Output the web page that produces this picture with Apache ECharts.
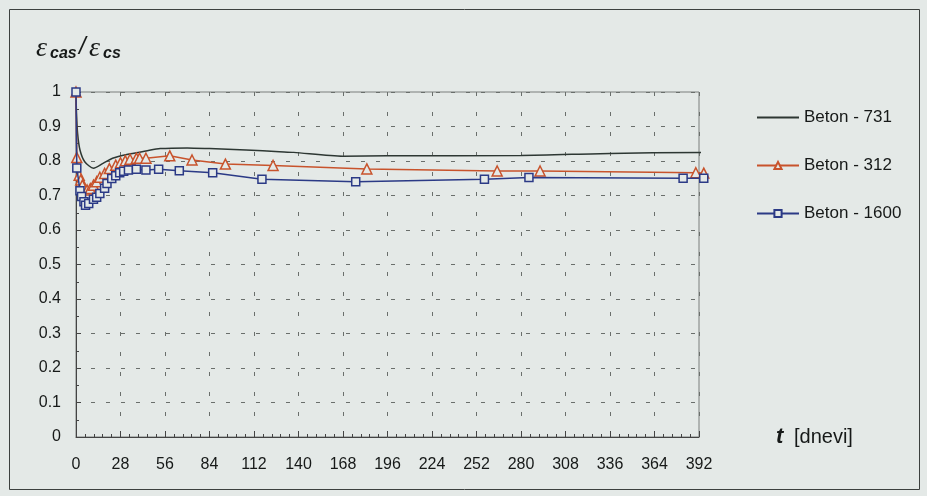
<!DOCTYPE html>
<html>
<head>
<meta charset="utf-8">
<script src="https://cdn.jsdelivr.net/npm/echarts@6/dist/echarts.min.js"></script>
<style>
  html, body { margin: 0; padding: 0; background: #e4e9e7; }
  #chart { width: 927px; height: 496px; }
</style>
</head>
<body>
<div id="chart"></div>
<script>
// ---- data ----
var xTicks = [0, 28, 56, 84, 112, 140, 168, 196, 224, 252, 280, 308, 336, 364, 392];
var yTicks = [0, 0.1, 0.2, 0.3, 0.4, 0.5, 0.6, 0.7, 0.8, 0.9, 1];

var t731 = [0, 0.3, 1, 2.5, 5.5, 11, 17, 23, 32, 44, 53, 70, 84, 107, 128, 137, 168, 196, 280, 336, 395];
var v731 = [1.0, 0.94, 0.88, 0.832, 0.798, 0.779, 0.793, 0.808, 0.819, 0.829, 0.836, 0.838, 0.836, 0.832, 0.827, 0.825, 0.814, 0.815, 0.816, 0.822, 0.825];

var t312 = [0, 0.5, 2, 3, 4, 7, 9, 11, 13, 15, 18, 21, 25, 28, 31, 34, 38, 40, 44, 59, 73, 94, 124, 183, 265, 292, 390, 395];
var v312 = [1.0, 0.81, 0.759, 0.745, 0.73, 0.716, 0.72, 0.73, 0.74, 0.753, 0.764, 0.778, 0.788, 0.795, 0.801, 0.805, 0.808, 0.808, 0.808, 0.815, 0.803, 0.791, 0.787, 0.777, 0.771, 0.771, 0.766, 0.765];

var t1600 = [0, 0.5, 2.5, 3.5, 5, 6, 8, 11, 13, 15, 18, 19.5, 22.5, 25, 27.5, 30, 33, 38, 44, 52, 65, 86, 117, 176, 257, 285, 382, 395];
var v1600 = [1.0, 0.78, 0.714, 0.697, 0.682, 0.672, 0.677, 0.689, 0.695, 0.706, 0.721, 0.735, 0.749, 0.757, 0.766, 0.770, 0.774, 0.776, 0.774, 0.776, 0.772, 0.766, 0.747, 0.740, 0.747, 0.752, 0.750, 0.750];

var seriesNames = ['Beton - 731', 'Beton - 312', 'Beton - 1600'];

function zip(ts, vs) { return ts.map(function (t, i) { return [t, vs[i]]; }); }

var BG = '#e4e9e7';
var TXT = '#161918';
var FONT = 'Liberation Sans, Arial, sans-serif';

var chart = echarts.init(document.getElementById('chart'), null, { renderer: 'canvas' });

chart.setOption({
  backgroundColor: BG,
  animation: false,
  grid: {
    left: 76, right: 228, top: 92, bottom: 59,
    show: true, borderColor: '#7a7f7c', borderWidth: 1, backgroundColor: 'transparent'
  },
  legend: {
    orient: 'vertical',
    left: 751,
    top: 104,
    itemWidth: 42,
    itemHeight: 9,
    itemGap: 31,
    textStyle: { fontFamily: FONT, fontSize: 17, color: TXT },
    data: seriesNames
  },
  xAxis: {
    type: 'value',
    min: xTicks[0],
    max: xTicks[xTicks.length - 1],
    interval: 28,
    axisLine: { show: true, lineStyle: { color: '#444', width: 1 } },
    axisTick: { show: true, inside: true, length: 6, lineStyle: { color: '#444' } },
    minorTick: { show: true, splitNumber: 5, length: 3, lineStyle: { color: '#444' } },
    axisLabel: { fontFamily: FONT, fontSize: 16, color: TXT, margin: 20 },
    splitLine: { show: true, lineStyle: { color: '#6a6f6c', type: [4, 16], width: 1 } }
  },
  yAxis: {
    type: 'value',
    min: yTicks[0],
    max: yTicks[yTicks.length - 1],
    interval: 0.1,
    axisLine: { show: true, lineStyle: { color: '#444', width: 1 } },
    axisTick: { show: true, inside: true, length: 5, lineStyle: { color: '#444' } },
    minorTick: { show: true, splitNumber: 2, length: 3, lineStyle: { color: '#444' } },
    axisLabel: { fontFamily: FONT, fontSize: 16, color: TXT, margin: 15,
      formatter: function (v) { return String(Math.round(v * 10) / 10); } },
    splitLine: { show: true, lineStyle: { color: '#6a6f6c', type: [4, 11], width: 1 } }
  },
  series: [
    {
      name: seriesNames[0], type: 'line', data: zip(t731, v731),
      symbol: 'none', smooth: 0.25, clip: false,
      lineStyle: { color: '#2d3733', width: 1.5 }, itemStyle: { color: '#2d3733', opacity: 0 }, z: 3
    },
    {
      name: seriesNames[1], type: 'line', data: zip(t312, v312),
      symbol: 'triangle', symbolSize: 10, clip: false,
      lineStyle: { color: '#c8532c', width: 1.5 },
      itemStyle: { color: BG, borderColor: '#c8532c', borderWidth: 1.5 }, z: 4
    },
    {
      name: seriesNames[2], type: 'line', data: zip(t1600, v1600),
      symbol: 'rect', symbolSize: 8, clip: false,
      lineStyle: { color: '#2b3a86', width: 1.5 },
      itemStyle: { color: BG, borderColor: '#2b3a86', borderWidth: 1.5 }, z: 5
    }
  ],
  graphic: [
    { type: 'rect', shape: { x: 9.5, y: 9.5, width: 910, height: 480 }, silent: true,
      style: { fill: 'none', stroke: '#3c403e', lineWidth: 1 }, z: -1 },
    { type: 'text', x: 36, y: 49, style: { text: 'ε', font: 'italic 28px Liberation Serif', fill: TXT, textVerticalAlign: 'middle' } },
    { type: 'text', x: 50, y: 54, style: { text: 'cas', font: 'italic bold 16px Liberation Sans', fill: TXT, textVerticalAlign: 'middle' } },
    { type: 'text', x: 79, y: 47, style: { text: '/', font: 'italic 24px Liberation Sans', fill: TXT, textVerticalAlign: 'middle' } },
    { type: 'text', x: 89, y: 49, style: { text: 'ε', font: 'italic 28px Liberation Serif', fill: TXT, textVerticalAlign: 'middle' } },
    { type: 'text', x: 103, y: 54, style: { text: 'cs', font: 'italic bold 16px Liberation Sans', fill: TXT, textVerticalAlign: 'middle' } },
    { type: 'text', x: 776, y: 437, style: { text: 't', font: 'italic bold 22px Liberation Sans', fill: TXT, textVerticalAlign: 'middle' } },
    { type: 'text', x: 794, y: 437, style: { text: '[dnevi]', font: '20px Liberation Sans', fill: TXT, textVerticalAlign: 'middle' } }
  ]
});
</script>
</body>
</html>
